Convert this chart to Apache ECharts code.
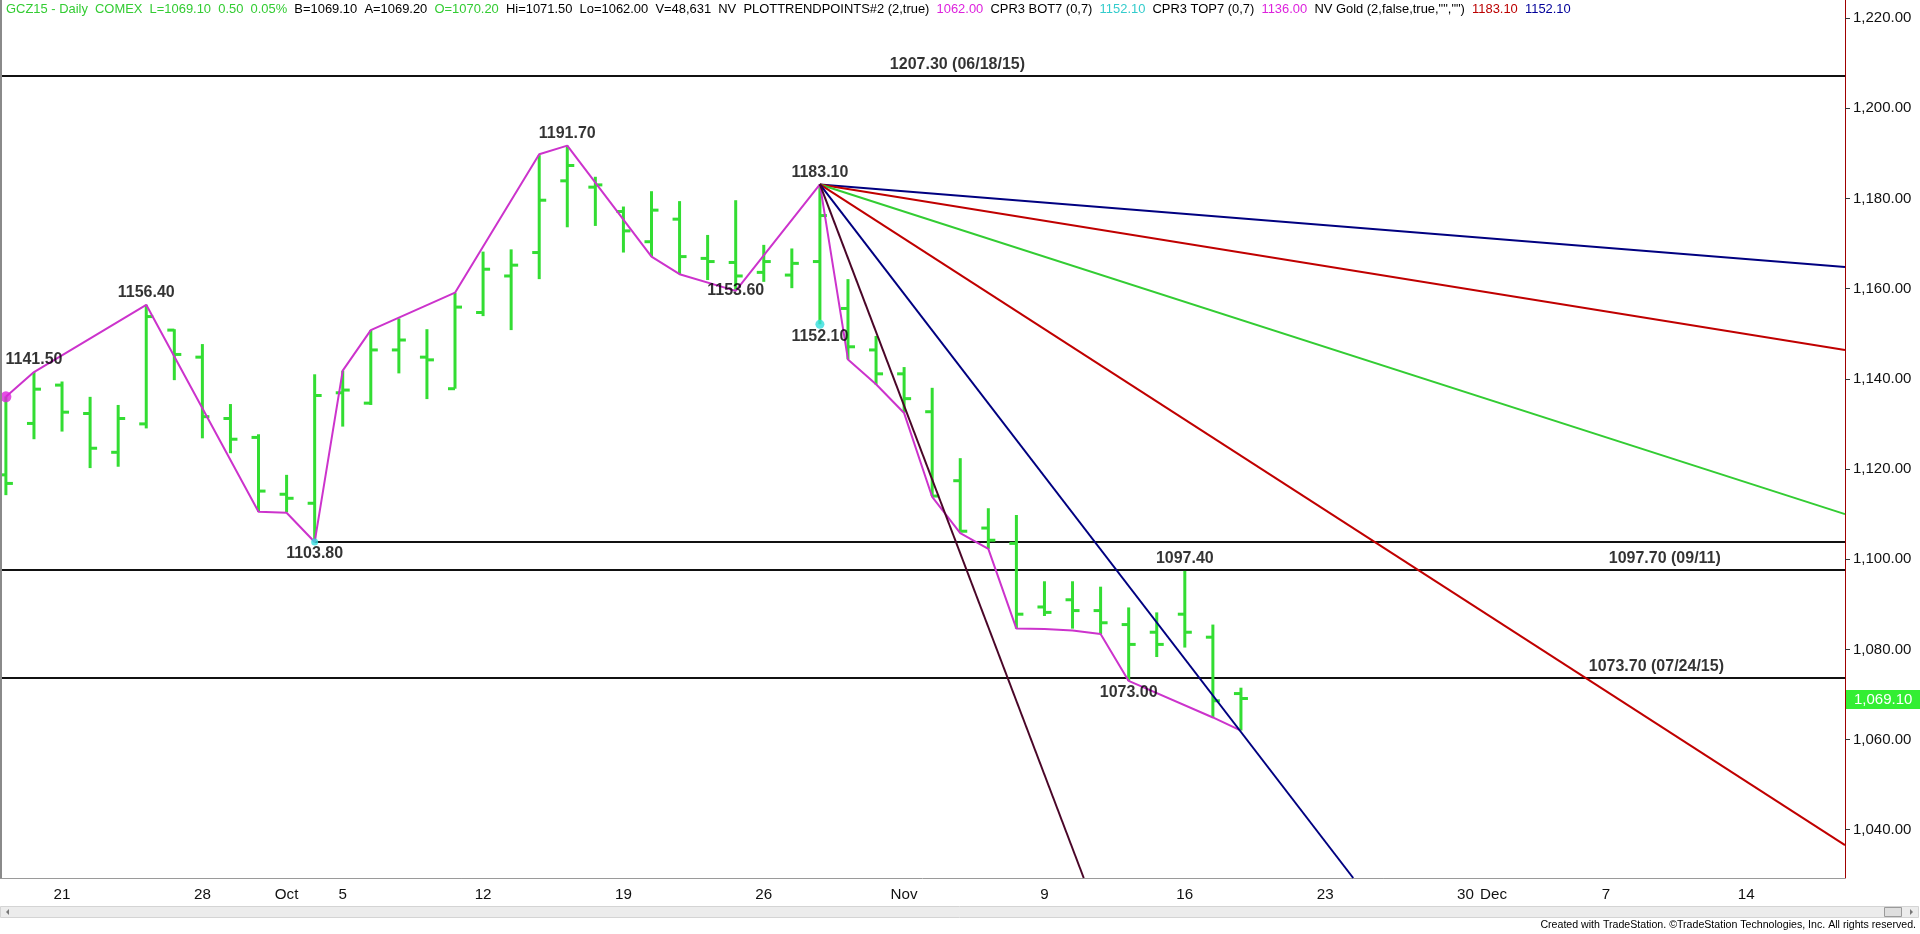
<!DOCTYPE html>
<html><head><meta charset="utf-8">
<script src="https://cdn.jsdelivr.net/npm/echarts@6/dist/echarts.min.js"></script>
<style>html,body{margin:0;padding:0;background:#fff;overflow:hidden}#c{width:1920px;height:934px}</style>
</head><body><div id="c"></div>
<script>
// ---------------- DATA ----------------
const dates = ['09/17','09/18','09/21','09/22','09/23','09/24','09/25','09/28','09/29','09/30',
  '10/01','10/02','10/05','10/06','10/07','10/08','10/09','10/12','10/13','10/14','10/15','10/16',
  '10/19','10/20','10/21','10/22','10/23','10/26','10/27','10/28','10/29','10/30',
  '11/02','11/03','11/04','11/05','11/06','11/09','11/10','11/11','11/12','11/13','11/16','11/17','11/18'];
const opens  = [1118.7,1130.1,1138.6,1132.3,1123.7,1130.0,1150.8,1144.8,1131.2,1127.0,1114.4,1112.4,1136.9,1134.6,1146.4,1144.8,1137.8,1154.7,1162.8,1168.0,1183.9,1182.5,1177.1,1170.4,1175.4,1166.7,1165.8,1163.6,1163.0,1166.0,1155.6,1146.4,1141.1,1132.7,1117.4,1106.9,1103.5,1089.4,1091.0,1088.6,1085.5,1083.8,1087.8,1082.7,1070.2];
const highs  = [1136.1,1141.5,1139.4,1136.0,1134.2,1156.4,1151.0,1147.7,1134.4,1127.7,1118.7,1141.0,1141.8,1150.8,1153.4,1151.0,1159.1,1168.2,1168.7,1189.6,1191.7,1184.8,1178.2,1181.6,1179.4,1171.9,1179.6,1169.7,1168.9,1183.1,1162.1,1149.5,1142.6,1138.0,1122.4,1111.3,1109.8,1095.1,1095.1,1093.9,1089.3,1088.2,1097.4,1085.5,1071.5];
const lows   = [1114.2,1126.6,1128.3,1120.2,1120.5,1129.0,1139.7,1126.8,1123.5,1110.5,1110.4,1103.8,1129.4,1134.2,1141.2,1135.5,1137.8,1153.9,1150.8,1162.1,1173.6,1173.9,1168.0,1167.1,1163.2,1161.9,1159.7,1161.5,1160.1,1152.1,1144.3,1138.7,1132.5,1114.0,1106.1,1102.3,1084.6,1087.4,1084.6,1083.4,1073.0,1078.3,1080.4,1064.9,1062.0];
const closes = [1116.8,1137.7,1132.6,1124.6,1131.2,1153.8,1145.4,1131.6,1126.6,1115.1,1113.5,1136.3,1137.5,1146.4,1148.6,1144.2,1155.9,1164.3,1165.2,1179.6,1187.3,1183.0,1172.8,1177.4,1167.1,1166.0,1162.8,1166.0,1165.6,1176.2,1147.1,1141.1,1135.6,1114.0,1106.2,1104.2,1087.8,1088.2,1088.6,1085.9,1081.1,1081.1,1083.8,1068.6,1069.1];

// swing-point (trend points) line: bar index, price
const pivotIdx = [0,1,5,9,10,11,12,13,16,19,20,23,24,26,29,30,31,32,33,34,35,36,37,38,39,40,43,44];
const pivotVal = [1136.0,1141.5,1156.4,1110.5,1110.3,1103.8,1141.8,1150.8,1159.1,1189.8,1191.7,1167.1,1163.2,1159.5,1183.1,1144.3,1138.8,1132.4,1113.8,1105.8,1102.3,1084.6,1084.5,1084.2,1083.4,1073.0,1064.9,1062.0];

// labelled swing points
const swingText = ['1141.50','1156.40','1103.80','1191.70','1153.60','1183.10','1152.10','1097.40','1073.00'];
const swingIdx  = [1,5,11,20,26,29,29,42,40];
const swingVal  = [1141.5,1156.4,1103.8,1191.7,1159.5,1183.1,1152.1,1097.4,1073.0];

// horizontal levels
const levelVal   = [1207.3,1103.8,1097.7,1073.7];
const levelFrom  = [-0.21,11,-0.21,-0.21];
const levelTo    = [65.52,65.52,65.52,65.52];
const levelText  = ['1207.30 (06/18/15)','','1097.70 (09/11)','1073.70 (07/24/15)'];
const levelTextIdx = [33.9,0,59.1,58.8];

// fan lines from the 1183.10 high (start index/value, end index/value)
const fanStartIdx = 29, fanStartVal = 1183.1;
const fanEndIdx = [65.52,65.52,65.52,65.52,48.0,38.4];
const fanEndVal = [1164.8,1146.4,1110.0,1036.6,1029.3,1029.3];

// dots
const dotIdx = [0,29,11];
const dotVal = [1136.0,1152.1,1103.8];

// axes
const tickIdx  = [2,7,10,12,17,22,27,32,37,42,47,52,53,57,62];
const tickText = ['21','28','Oct','5','12','19','26','Nov','9','16','23','30','Dec','7','14'];
const priceTicks = [1040,1060,1080,1100,1120,1140,1160,1180,1200,1220];

// ---------------- STYLE ----------------
const GREEN = '#33dd33';
const fanColors = ['#000080','#c00000','#33cc33','#c00000','#000080','#4a0628'];
const dotColors = ['#dd22dd','#33dddd','#33dddd'];
const dotSizes = [11,9,7];
const swingPos = ['top','top','bottom','top','inside','top','bottom','top','bottom'];

const mctx = document.createElement('canvas').getContext('2d');
function hasFont(name){
  mctx.font = '40px monospace'; const a = mctx.measureText('mmmmmiiiiil1234WW').width;
  mctx.font = '40px "' + name + '", monospace'; const b = mctx.measureText('mmmmmiiiiil1234WW').width;
  return Math.abs(a-b) > 0.5;
}
const NARROW = hasFont('Liberation Sans Narrow') ? '"Liberation Sans Narrow", "Liberation Sans", sans-serif' : '"Liberation Sans", Arial, sans-serif';
const REG = '"Liberation Sans", Arial, sans-serif';
function fit(text, family, weight, target){
  mctx.font = weight + ' 100px ' + family;
  return 100 * target / mctx.measureText(text).width;
}

const headerParts = [['g','GCZ15 - Daily  COMEX  L=1069.10  0.50  0.05%'],['k','  B=1069.10  A=1069.20  '],['g','O=1070.20'],
  ['k','  Hi=1071.50  Lo=1062.00  V=48,631  NV  PLOTTRENDPOINTS#2 (2,true)  '],['m','1062.00'],['k','  CPR3 BOT7 (0,7)  '],
  ['c','1152.10'],['k','  CPR3 TOP7 (0,7)  '],['m','1136.00'],['k','  NV Gold (2,false,true,"","")  '],['r','1183.10'],['k','  '],['b','1152.10']];
const headerPlain = headerParts.map(p=>p[1]).join('');
const hSize = fit(headerPlain, NARROW, 'normal', 1566);
const headerRichText = headerParts.map(p=>'{'+p[0]+'|'+p[1]+'}').join('');
const hcol = {g:'#33cc33',k:'#000',m:'#dd22dd',c:'#33cccc',r:'#bb0000',b:'#000099'};
const rich = {}; Object.keys(hcol).forEach(k=>rich[k]={fill:hcol[k],fontSize:hSize,fontFamily:NARROW});

const credit = 'Created with TradeStation. \u00A9TradeStation Technologies, Inc. All rights reserved.';
const cSize = fit(credit, NARROW, 'normal', 376);
const xLabelSize = fit('Nov', NARROW, 'normal', 27);

// ---------------- BUILD ----------------
const ohlc = dates.map((d,i)=>[i, opens[i], highs[i], lows[i], closes[i]]);
const fanData = fanEndIdx.map((e,i)=>({coords:[[fanStartIdx,fanStartVal],[e,fanEndVal[i]]], lineStyle:{color:fanColors[i]}}));
const levelData = levelVal.map((v,i)=>({coords:[[levelFrom[i],v],[levelTo[i],v]]}));
const levelLabels = levelVal.map((v,i)=>({value:[levelTextIdx[i],v], name:levelText[i]})).filter(d=>d.name);
const tickMap = {}; tickIdx.forEach((t,i)=>tickMap[t]=tickText[i]);
const lastClose = closes[closes.length-1];
const fmt2 = v=>v.toLocaleString('en-US',{minimumFractionDigits:2,maximumFractionDigits:2});

const chart = echarts.init(document.getElementById('c'), null, {renderer:'canvas'});
const X_MIN = -0.21, X_MAX = 65.52;
chart.setOption({
  animation:false,
  backgroundColor:'#fff',
  grid:{left:0,right:75,top:0,bottom:56,containLabel:false},
  xAxis:{type:'value',min:X_MIN,max:X_MAX,
    axisLine:{show:true,onZero:false,lineStyle:{color:'#9a9a9a',width:1}},
    axisTick:{show:false},splitLine:{show:false},
    axisLabel:{customValues:tickIdx,formatter:v=>tickMap[Math.round(v)]||'',color:'#111',fontFamily:NARROW,fontSize:xLabelSize,margin:9}},
  yAxis:{type:'value',position:'right',min:1029.3,max:1224.0,
    axisLine:{show:true,onZero:false,lineStyle:{color:'#a00000',width:1}},
    axisTick:{show:true,customValues:priceTicks,length:5,lineStyle:{color:'#333'}},
    splitLine:{show:false},
    axisLabel:{customValues:priceTicks,formatter:fmt2,color:'#111',fontFamily:REG,fontSize:15,margin:8}},
  series:[
    {type:'lines',coordinateSystem:'cartesian2d',polyline:false,silent:true,z:2,
      lineStyle:{color:'#111',width:2,opacity:1},data:levelData},
    {type:'custom',z:3,silent:true,data:ohlc,encode:{x:0,y:[1,2,3,4]},
      renderItem:function(params,api){
        const x=api.value(0);
        const pH=api.coord([x,api.value(2)]), pL=api.coord([x,api.value(3)]);
        const pO=api.coord([x,api.value(1)]), pC=api.coord([x,api.value(4)]);
        const st={stroke:GREEN,lineWidth:3};
        return {type:'group',children:[
          {type:'line',shape:{x1:pH[0],y1:pH[1],x2:pL[0],y2:pL[1]},style:st},
          {type:'line',shape:{x1:pO[0]-7,y1:pO[1],x2:pO[0],y2:pO[1]},style:st},
          {type:'line',shape:{x1:pC[0],y1:pC[1],x2:pC[0]+7,y2:pC[1]},style:st}]};
      }},
    {type:'line',z:4,silent:true,symbol:'none',data:pivotIdx.map((x,i)=>[x,pivotVal[i]]),
      lineStyle:{color:'#cc33cc',width:2}},
    {type:'lines',coordinateSystem:'cartesian2d',polyline:false,silent:true,z:5,clip:true,
      lineStyle:{width:2,opacity:1},data:fanData},
    {type:'scatter',z:6,silent:true,symbol:'circle',
      data:dotIdx.map((x,i)=>({value:[x,dotVal[i]],symbolSize:dotSizes[i],itemStyle:{color:dotColors[i]}}))},
    {type:'scatter',z:7,silent:true,symbolSize:0,
      data:swingIdx.map((x,i)=>({value:[x,swingVal[i]],name:swingText[i],label:{position:swingPos[i]}})),
      label:{show:true,formatter:p=>p.name,distance:4,color:'#000',fontWeight:'bold',fontSize:16,fontFamily:REG}},
    {type:'scatter',z:7,silent:true,symbolSize:0,data:levelLabels,
      label:{show:true,position:'top',distance:3,formatter:p=>p.name,color:'#000',fontWeight:'bold',fontSize:16,fontFamily:REG}}
  ]
});
// last-price marker placed through the axis scale
const pLast = chart.convertToPixel({gridIndex:0},[X_MAX,lastClose]);
const lastY = Math.round(pLast[1]);
const lastX = Math.round(pLast[0]) + 1;
chart.setOption({graphic:[
  {type:'text',left:6,top:3,z:10,style:{text:headerRichText,rich:rich,fontSize:hSize,fontFamily:NARROW}},
  {type:'rect',shape:{x:0,y:0,width:2,height:878},style:{fill:'#8a8a8a'},z:10},
  {type:'rect',shape:{x:0.5,y:906.5,width:1918,height:11},style:{fill:'#ececec',stroke:'#d4d4d4'},z:10},
  {type:'polygon',shape:{points:[[6,912],[9,909],[9,915]]},style:{fill:'#777'},z:11},
  {type:'rect',shape:{x:1884.5,y:907.5,width:17,height:9},style:{fill:'#dedede',stroke:'#9a9a9a'},z:11},
  {type:'polygon',shape:{points:[[1913,912],[1910,909],[1910,915]]},style:{fill:'#777'},z:11},
  {type:'text',right:4,top:920,z:10,style:{text:credit,fill:'#000',fontSize:cSize,fontFamily:NARROW}},
  {type:'rect',z:12,shape:{x:lastX,y:lastY-9,width:1920-lastX,height:19},style:{fill:'#33ee33'}},
  {type:'text',z:13,x:lastX+8,y:lastY+1,style:{text:fmt2(lastClose),fill:'#fff',fontSize:15,fontFamily:REG,verticalAlign:'middle'}}
]});
</script></body></html>
